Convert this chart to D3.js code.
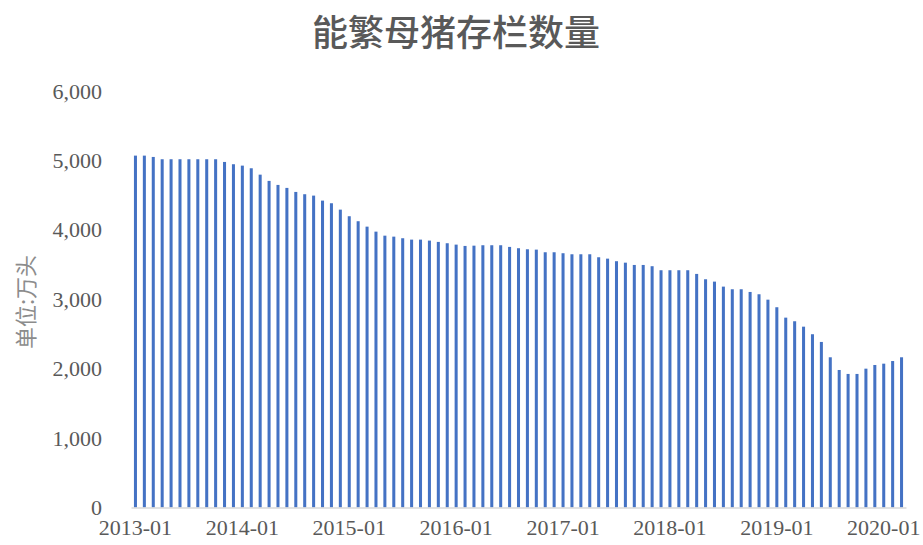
<!DOCTYPE html>
<html>
<head>
<meta charset="utf-8">
<script src="https://cdn.jsdelivr.net/npm/d3@7/dist/d3.min.js"></script>
<style>
  html, body { margin: 0; padding: 0; background: #ffffff; }
  svg { display: block; }
</style>
</head>
<body>
<svg id="chart" width="923" height="545"></svg>
<script>
// ---- Data ----
const chartTitle = "能繁母猪存栏数量";
const yAxisTitle = "单位:万头";
const startYear = 2013;
const values = [
  5069, 5069, 5050, 5017, 5017, 5017, 5017, 5017, 5017, 5017, 4978, 4945,
  4925, 4887, 4795, 4705, 4647, 4604, 4546, 4513, 4493, 4421, 4383, 4291,
  4196, 4124, 4046, 3974, 3916, 3902, 3879, 3859, 3859, 3845, 3826, 3807,
  3787, 3768, 3772, 3778, 3778, 3778, 3754, 3735, 3720, 3715, 3677, 3677,
  3663, 3648, 3648, 3648, 3605, 3585, 3548, 3527, 3494, 3494, 3476, 3418,
  3418, 3418, 3418, 3365, 3288, 3254, 3182, 3144, 3144, 3105, 3072, 2994,
  2885, 2735, 2683, 2605, 2496, 2385, 2164, 1981, 1924, 1924, 2000, 2053,
  2072, 2110, 2164
];
const months = values.map((v, i) => {
  const yr = startYear + Math.floor(i / 12);
  const m = (i % 12) + 1;
  return yr + "-" + String(m).padStart(2, "0");
});
const xTickLabels = months.filter(m => m.endsWith("-01"));
const yTicks = [0, 1000, 2000, 3000, 4000, 5000, 6000];

// ---- Layout ----
const svg = d3.select("#chart");
const plotLeft = 131, plotRight = 906, plotTop = 91, plotBottom = 507.5;

const x = d3.scaleBand()
  .domain(months)
  .range([plotLeft, plotRight])
  .paddingInner(0.66)
  .paddingOuter(0.33);

const y = d3.scaleLinear()
  .domain([0, 6000])
  .range([plotBottom, plotTop]);

// Title
svg.append("text")
  .attr("x", 456)
  .attr("y", 46)
  .attr("text-anchor", "middle")
  .attr("font-family", "'Noto Sans CJK SC', sans-serif")
  .attr("font-size", 36)
  .attr("font-weight", 500)
  .attr("fill", "#595959")
  .text(chartTitle);

// Bars
svg.append("g")
  .selectAll("rect")
  .data(values)
  .join("rect")
  .attr("x", (d, i) => x(months[i]))
  .attr("width", x.bandwidth())
  .attr("y", d => y(d))
  .attr("height", d => y(0) - y(d))
  .attr("fill", "#4472C4");

// Y axis (labels only)
const yAxis = d3.axisLeft(y)
  .tickValues(yTicks)
  .tickFormat(d3.format(","))
  .tickSize(0)
  .tickPadding(0);
const yg = svg.append("g")
  .attr("transform", `translate(${102},0)`)
  .call(yAxis);
yg.select(".domain").remove();
yg.selectAll("text")
  .attr("font-family", "'Liberation Serif', 'Times New Roman', serif")
  .attr("font-size", 22)
  .attr("fill", "#595959");

// X axis
const xAxis = d3.axisBottom(x)
  .tickValues(xTickLabels)
  .tickSize(0)
  .tickPadding(12);
const xg = svg.append("g")
  .attr("transform", `translate(0,${plotBottom})`)
  .call(xAxis);
xg.select(".domain")
  .attr("stroke", "#d9d9d9")
  .attr("stroke-width", 1.5);
xg.selectAll("text")
  .attr("font-family", "'Liberation Serif', 'Times New Roman', serif")
  .attr("font-size", 22)
  .attr("fill", "#595959");

// Y axis title
svg.append("text")
  .attr("transform", "translate(34,302) rotate(-90)")
  .attr("text-anchor", "middle")
  .attr("font-family", "'Noto Sans CJK SC', sans-serif")
  .attr("font-size", 22)
  .attr("fill", "#8c8c8c")
  .text(yAxisTitle);
</script>
</body>
</html>
